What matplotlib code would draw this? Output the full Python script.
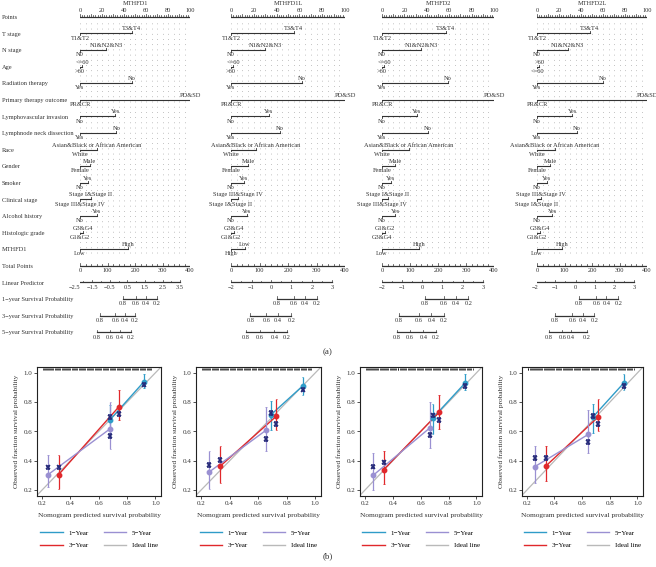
import numpy as np
import matplotlib
matplotlib.use('Agg')
import matplotlib.pyplot as plt
from matplotlib.transforms import blended_transform_factory
from matplotlib.lines import Line2D

plt.rcParams['font.family'] = ['Liberation Serif', 'DejaVu Serif']

W, H = 656, 567

# ---------------- nomogram data ----------------
genes = ['MTHFD1', 'MTHFD1L', 'MTHFD2', 'MTHFD2L']
row_names = ['Points', 'T stage', 'N stage', 'Age', 'Radiation therapy',
             'Primary therapy outcome', 'Lymphovascular invasion',
             'Lymphnode neck dissection', 'Race', 'Gender', 'Smoker',
             'Clinical stage', 'Alcohol history', 'Histologic grade', 'MTHFD1',
             'Total Points', 'Linear Predictor', '1−year Survival Probability',
             '3−year Survival Probability', '5−year Survival Probability']

# points of the upper level of each factor (lower level sits at 0)
upper_pts = [
    [47, 24, 2, 47, 100, 32, 33, 15, 9, 7, 10, 15, 3, 44],
    [55, 30, 2, 62, 100, 33, 43, 22, 15, 11, 6, 14, 3, 12],
    [57, 35, 2, 59, 100, 31, 41, 24, 12, 8, 5, 12, 3, 33],
    [48, 28, 2, 60, 100, 32, 36, 16, 12, 9, 4, 14, 3, 23],
]
race_a = 'Asian&Black or African American'
upper_lab = [
    ['T3&T4', 'N1&N2&N3', '<=60', 'No', 'PD&SD', 'Yes', 'No', race_a, 'Male', 'Yes',
     'Stage I&Stage II', 'Yes', 'G3&G4', 'High'],
    ['T3&T4', 'N1&N2&N3', '<=60', 'No', 'PD&SD', 'Yes', 'No', race_a, 'Male', 'Yes',
     'Stage III&Stage IV', 'Yes', 'G3&G4', 'Low'],
    ['T3&T4', 'N1&N2&N3', '<=60', 'No', 'PD&SD', 'Yes', 'No', race_a, 'Male', 'Yes',
     'Stage I&Stage II', 'Yes', 'G1&G2', 'High'],
    ['T3&T4', 'N1&N2&N3', '>60', 'No', 'PD&SD', 'Yes', 'No', race_a, 'Male', 'Yes',
     'Stage III&Stage IV', 'Yes', 'G3&G4', 'High'],
]
lower_lab = [
    ['T1&T2', 'N0', '>60', 'Yes', 'PR&CR', 'No', 'Yes', 'White', 'Female', 'No',
     'Stage III&Stage IV', 'No', 'G1&G2', 'Low'],
    ['T1&T2', 'N0', '>60', 'Yes', 'PR&CR', 'No', 'Yes', 'White', 'Female', 'No',
     'Stage I&Stage II', 'No', 'G1&G2', 'High'],
    ['T1&T2', 'N0', '>60', 'Yes', 'PR&CR', 'No', 'Yes', 'White', 'Female', 'No',
     'Stage III&Stage IV', 'No', 'G3&G4', 'Low'],
    ['T1&T2', 'N0', '<=60', 'Yes', 'PR&CR', 'No', 'Yes', 'White', 'Female', 'No',
     'Stage I&Stage II', 'No', 'G1&G2', 'Low'],
]

point_ticks = [0, 20, 40, 60, 80, 100]
total_ticks = [0, 100, 200, 300, 400]

lp_labels = [[-2.5, -1.5, -0.5, 0.5, 1.5, 2.5, 3.5],
             [-2, -1, 0, 1, 2, 3],
             [-2, -1, 0, 1, 2, 3],
             [-2, -1, 0, 1, 2, 3]]
lp_pos = [[-5, 11, 27, 43, 59, 75, 91],
          [0, 18, 35, 53, 71, 89],
          [0, 18, 36, 54, 72, 90],
          [-2, 16, 35, 53, 70, 88]]

surv_labels = ['0.8', '0.6', '0.4', '0.2']
surv1_pos = [[39, 51, 60, 70], [40, 55, 65, 75], [38, 55, 66, 77], [38, 54, 63, 74]]
surv3_pos = [[18, 32, 41, 50], [17, 31, 41, 53], [15, 33, 44, 55], [16, 32, 42, 52]]
surv5_pos = [[15, 27, 36, 46], [13, 25, 38, 49], [13, 25, 37, 48], [11, 23, 31, 45]]

# ---------------- calibration data ----------------
y1_x = [[0.68, 0.92], [0.688, 0.911], [0.685, 0.918], [0.679, 0.90]]
y1_obs = [[0.68, 0.94], [0.713, 0.91], [0.69, 0.93], [0.70, 0.93]]
y1_lo = [[0.56, 0.90], [0.61, 0.85], [0.58, 0.88], [0.59, 0.88]]
y1_hi = [[0.78, 0.99], [0.81, 0.97], [0.79, 0.99], [0.79, 0.99]]
y1_bc = [[0.70, 0.92], [0.725, 0.885], [0.71, 0.91], [0.705, 0.91]]

y3_x = [[0.317, 0.744], [0.336, 0.728], [0.335, 0.732], [0.337, 0.717]]
y3_obs = [[0.305, 0.77], [0.365, 0.705], [0.34, 0.73], [0.364, 0.70]]
y3_lo = [[0.21, 0.68], [0.25, 0.61], [0.24, 0.62], [0.26, 0.60]]
y3_hi = [[0.44, 0.88], [0.50, 0.82], [0.47, 0.85], [0.50, 0.82]]
y3_bc = [[0.355, 0.72], [0.405, 0.65], [0.39, 0.68], [0.42, 0.65]]

y5_x = [[0.242, 0.683], [0.259, 0.657], [0.258, 0.669], [0.257, 0.644]]
y5_obs = [[0.305, 0.62], [0.325, 0.61], [0.30, 0.627], [0.36, 0.58]]
y5_lo = [[0.22, 0.48], [0.21, 0.47], [0.20, 0.49], [0.25, 0.45]]
y5_hi = [[0.44, 0.80], [0.47, 0.77], [0.45, 0.80], [0.50, 0.75]]
y5_bc = [[0.355, 0.57], [0.37, 0.55], [0.36, 0.575], [0.42, 0.53]]

rug = [0.205, 0.212, 0.22, 0.228, 0.236, 0.243, 0.25, 0.258, 0.266, 0.274, 0.281, 0.29,
       0.297, 0.305, 0.313, 0.321, 0.33, 0.338, 0.345, 0.352, 0.36, 0.368, 0.377, 0.384,
       0.392, 0.40, 0.41, 0.418, 0.426, 0.434, 0.44, 0.449, 0.458, 0.466, 0.474, 0.482,
       0.49, 0.498, 0.507, 0.515, 0.522, 0.53, 0.538, 0.546, 0.555, 0.563, 0.571, 0.58,
       0.588, 0.596, 0.604, 0.612, 0.62, 0.628, 0.636, 0.645, 0.653, 0.661, 0.669, 0.677,
       0.685, 0.693, 0.702, 0.71, 0.718, 0.726, 0.734, 0.742, 0.75, 0.758, 0.767, 0.775,
       0.783, 0.791, 0.799, 0.807, 0.815, 0.823, 0.832, 0.84, 0.848, 0.856, 0.864, 0.872,
       0.88, 0.889, 0.897, 0.905, 0.913, 0.921, 0.93, 0.938, 0.946, 0.955, 0.963, 0.972]

c1 = '#2f9cc8'
c3 = '#e0282b'
c5 = '#9a90d2'
cideal = '#b9b9b9'
cbc = '#272b7a'
ink = '#333333'
fs = 4.6

fig = plt.figure(figsize=(W / 100, H / 100), dpi=100)

# nomogram panels: pixel x of 0 and 100 points
nomo_x = [(80, 190), (231, 345), (382, 494), (537, 647)]
row0, rowstep, top_h = 16.7, 16.6, 345

for k in range(4):
    x0, x1 = nomo_x[k]
    ax = fig.add_axes([x0 / W, 1 - top_h / H, (x1 - x0) / W, top_h / H])
    ax.set_xlim(0, 100)
    ax.set_ylim((top_h - row0) / rowstep, -row0 / rowstep)
    ax.axis('off')

    # grid
    for g in range(0, 101, 5):
        ax.plot([g, g], [0.35, 14.35], ls=(0, (1, 6.5)), lw=0.5, color='#8a8a8a')

    ax.text(50, -0.8, genes[k], ha='center', va='center', fontsize=fs, color=ink)

    # points axis
    ax.plot([0, 100], [0, 0], color=ink, lw=0.9)
    for t in range(0, 101, 2):
        ax.plot([t, t], [0, -0.1 if t % 10 else -0.16], color=ink, lw=0.5)
    for t in point_ticks:
        ax.text(t, -0.25, str(t), ha='center', va='bottom', fontsize=fs, color=ink)

    # factor rows
    for i in range(14):
        yy = i + 1
        p = upper_pts[k][i]
        ax.plot([0, p], [yy, yy], color=ink, lw=0.8)
        ax.plot([0, 0], [yy, yy + 0.12], color=ink, lw=0.6)
        ax.plot([p, p], [yy, yy - 0.12], color=ink, lw=0.6)
        ax.text(p, yy - 0.12, upper_lab[k][i], ha='center', va='bottom', fontsize=fs, color=ink)
        ax.text(0, yy + 0.14, lower_lab[k][i], ha='center', va='top', fontsize=fs, color=ink)

    # total points
    ax.plot([0, 100], [15, 15], color=ink, lw=0.9)
    for t in range(0, 401, 20):
        ax.plot([t / 4, t / 4], [15, 14.88 if t % 100 else 14.82], color=ink, lw=0.5)
    for t in total_ticks:
        ax.text(t / 4, 15.15, str(t), ha='center', va='top', fontsize=fs, color=ink)

    # linear predictor
    pos = lp_pos[k]
    ax.plot([pos[0], pos[-1]], [16, 16], color=ink, lw=0.9)
    mids = [(pos[j] + pos[j + 1]) / 2 for j in range(len(pos) - 1)]
    for t in pos:
        ax.plot([t, t], [16, 15.84], color=ink, lw=0.5)
    for t in mids:
        ax.plot([t, t], [16, 15.9], color=ink, lw=0.5)
    for t, lab in zip(pos, lp_labels[k]):
        ax.text(t, 16.15, ('%g' % lab).replace('-', '−'), ha='center', va='top', fontsize=fs, color=ink)

    # survival axes
    for yy, sp in [(17, surv1_pos[k]), (18, surv3_pos[k]), (19, surv5_pos[k])]:
        ax.plot([sp[0], sp[-1]], [yy, yy], color=ink, lw=0.9)
        for t, lab in zip(sp, surv_labels):
            ax.plot([t, t], [yy, yy - 0.15], color=ink, lw=0.5)
            ax.text(t, yy + 0.15, lab, ha='center', va='top', fontsize=fs, color=ink)

    if k == 0:
        tr = blended_transform_factory(fig.transFigure, ax.transData)
        for i, name in enumerate(row_names):
            ax.text(2 / W, i + 0.05, name, transform=tr, ha='left', va='center',
                    fontsize=fs, color=ink)

fig.text(328 / W, 1 - 352 / H, '(a)', ha='center', va='center', fontsize=6.5, color=ink)
fig.text(328 / W, 1 - 556 / H, '(b)', ha='center', va='center', fontsize=6.5, color=ink)

# calibration panels (pixel boxes)
cal_box = [(37, 161), (196, 321), (360, 482), (522, 643)]
cal_top, cal_bot = 367, 496
series = [(y1_x, y1_obs, y1_lo, y1_hi, y1_bc, c1),
          (y3_x, y3_obs, y3_lo, y3_hi, y3_bc, c3),
          (y5_x, y5_obs, y5_lo, y5_hi, y5_bc, c5)]

for k in range(4):
    l, r = cal_box[k]
    ax = fig.add_axes([l / W, 1 - cal_bot / H, (r - l) / W, (cal_bot - cal_top) / H])
    ax.set_xlim(0.165, 1.04)
    ax.set_ylim(0.16, 1.04)
    ax.plot([0, 1.1], [0, 1.1], color=cideal, lw=0.9, zorder=1)
    for px, obs, lo, hi, bc, col in series:
        ax.plot(px[k], obs[k], color=col, lw=1.0, zorder=2)
        ax.vlines(px[k], lo[k], hi[k], color=col, lw=0.9, zorder=2)
        ax.hlines(lo[k] + hi[k], [v - 0.006 for v in px[k]] * 2, [v + 0.006 for v in px[k]] * 2,
                  color=col, lw=0.6, zorder=2)
        ax.plot(px[k], obs[k], 'o', color=col, ms=3.2, zorder=3)
    for px, obs, lo, hi, bc, col in series:
        ax.errorbar(px[k], bc[k], yerr=0.012, fmt='x', color=cbc, ms=3.5, mew=1.1,
                    elinewidth=0.8, capsize=1.2, zorder=4)
    ax.vlines(rug, 1.018, 1.036, color='black', lw=0.5, zorder=5)
    ax.set_xticks([0.2, 0.4, 0.6, 0.8, 1.0])
    ax.set_yticks([0.2, 0.4, 0.6, 0.8, 1.0])
    ax.set_xticklabels(['0.2', '0.4', '0.6', '0.8', '1.0'])
    ax.set_yticklabels(['0.2', '0.4', '0.6', '0.8', '1.0'])
    ax.tick_params(labelsize=5, length=2, width=0.6, pad=1.5, colors=ink, labelcolor=ink)
    for s in ax.spines.values():
        s.set_linewidth(0.8)
        s.set_color('#222222')
    ax.set_xlabel('Nomogram predicted survival probability', fontsize=5.3, color=ink, labelpad=5)
    ax.set_ylabel('Observed fraction survival probability', fontsize=5.3, color=ink, labelpad=3)
    handles = [Line2D([], [], color=c1, lw=1.0), Line2D([], [], color=c3, lw=1.0),
               Line2D([], [], color=c5, lw=1.0), Line2D([], [], color=cideal, lw=1.0)]
    ax.legend(handles, ['1−Year', '3−Year', '5−Year', 'Ideal line'], ncol=2,
              loc='upper center', bbox_to_anchor=(0.5, -0.215), frameon=False,
              fontsize=5, handlelength=3.2, columnspacing=2.2, labelspacing=0.95)

fig.savefig('out.png', dpi=100, facecolor='white')
